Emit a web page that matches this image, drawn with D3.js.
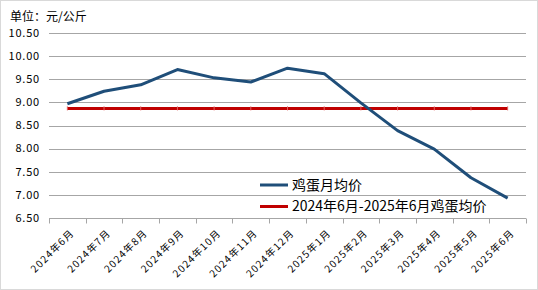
<!DOCTYPE html>
<html>
<head>
<meta charset="utf-8">
<script src="https://cdn.jsdelivr.net/npm/d3@7"></script>
<style>
  body { margin: 0; background: #fff; }
  text { font-family: "Noto Sans CJK SC", "DejaVu Sans", sans-serif; fill: #000; }
</style>
</head>
<body>
<div id="chart"></div>
<script>
var months = ["2024年6月", "2024年7月", "2024年8月", "2024年9月", "2024年10月", "2024年11月", "2024年12月",
              "2025年1月", "2025年2月", "2025年3月", "2025年4月", "2025年5月", "2025年6月"];
var monthly = [8.97, 9.24, 9.38, 9.71, 9.53, 9.44, 9.74, 9.62, 8.99, 8.39, 7.99, 7.37, 6.93];
var average = [8.87, 8.87, 8.87, 8.87, 8.87, 8.87, 8.87, 8.87, 8.87, 8.87, 8.87, 8.87, 8.87];
var yTicks = [6.5, 7.0, 7.5, 8.0, 8.5, 9.0, 9.5, 10.0, 10.5];
var seriesNames = ["鸡蛋月均价", "2024年6月-2025年6月鸡蛋均价"];

var width = 538;
var height = 290;
var margin = {left: 49, right: 12, top: 33, bottom: 72};

var svg = d3.select("#chart")
    .append("svg")
    .attr("width", width)
    .attr("height", height);

svg.append("rect")
    .attr("x", 0.5).attr("y", 0.5)
    .attr("width", width - 1).attr("height", height - 1)
    .attr("fill", "#fff")
    .attr("stroke", "#d9d9d9");

var x = d3.scaleBand()
    .domain(months)
    .range([margin.left, width - margin.right]);

var y = d3.scaleLinear()
    .domain([6.5, 10.5])
    .range([height - margin.bottom, margin.top]);

function cx(d) { return x(d) + x.bandwidth() / 2; }

// gridlines
svg.append("g")
    .selectAll("line")
    .data(yTicks.slice(1))
    .enter().append("line")
    .attr("x1", margin.left)
    .attr("x2", width - margin.right)
    .attr("y1", function (d) { return Math.round(y(d)) + 0.5; })
    .attr("y2", function (d) { return Math.round(y(d)) + 0.5; })
    .attr("stroke", "#a6a6a6");

// y labels
svg.append("g")
    .selectAll("text")
    .data(yTicks)
    .enter().append("text")
    .attr("x", 40)
    .attr("y", function (d) { return y(d); })
    .attr("dy", "0.35em")
    .attr("text-anchor", "end")
    .attr("font-size", "11px")
    .style("letter-spacing", "0.8px")
    .text(function (d) { return d3.format(".2f")(d); });

// x axis
var xAxis = svg.append("g")
    .attr("transform", "translate(0," + (Math.round(y(6.5)) + 0.5) + ")");
xAxis.append("line")
    .attr("x1", margin.left).attr("x2", width - margin.right)
    .attr("stroke", "#a6a6a6");
xAxis.selectAll("line.tick")
    .data(months.concat(["end"]))
    .enter().append("line")
    .attr("class", "tick")
    .attr("x1", function (d, i) { return Math.round(i < months.length ? x(d) : x.range()[1]) + 0.5; })
    .attr("x2", function (d, i) { return Math.round(i < months.length ? x(d) : x.range()[1]) + 0.5; })
    .attr("y1", 0).attr("y2", 5)
    .attr("stroke", "#a6a6a6");

svg.append("g")
    .selectAll("text")
    .data(months)
    .enter().append("text")
    .attr("transform", function (d) {
        return "translate(" + (cx(d) + 5) + "," + (y(6.5) + 13) + ") rotate(-45)";
    })
    .attr("text-anchor", "end")
    .attr("dy", "0.35em")
    .attr("font-size", "10px")
    .style("letter-spacing", "1.2px")
    .text(function (d) { return d; });

// lines
var line = d3.line()
    .x(function (d, i) { return cx(months[i]); })
    .y(function (d) { return y(d); });

svg.append("path")
    .datum(average)
    .attr("d", line)
    .attr("fill", "none")
    .attr("stroke", "#c00000")
    .attr("stroke-width", 3);

svg.append("g")
    .selectAll("line")
    .data(average)
    .enter().append("line")
    .attr("x1", function (d, i) { return cx(months[i]); })
    .attr("x2", function (d, i) { return cx(months[i]); })
    .attr("y1", function (d) { return y(d) - 2; })
    .attr("y2", function (d) { return y(d) + 2; })
    .attr("stroke", "#e06060")
    .attr("stroke-width", 1);

svg.append("path")
    .datum(monthly)
    .attr("d", line)
    .attr("fill", "none")
    .attr("stroke", "#1f4e79")
    .attr("stroke-width", 3)
    .attr("stroke-linejoin", "round");

// title
svg.append("text")
    .attr("x", 10)
    .attr("y", 21)
    .attr("font-size", "12px")
    .text("单位：元/公斤");

// legend
var legendColors = ["#1f4e79", "#c00000"];
var legend = svg.append("g").selectAll("g")
    .data(seriesNames)
    .enter().append("g")
    .attr("transform", function (d, i) { return "translate(260," + (185 + i * 21.5) + ")"; });

legend.append("line")
    .attr("x1", 0).attr("x2", 28)
    .attr("stroke", function (d, i) { return legendColors[i]; })
    .attr("stroke-width", 3);

legend.append("text")
    .attr("x", 32)
    .attr("dy", "0.35em")
    .attr("font-size", "14px")
    .text(function (d) { return d; });
</script>
</body>
</html>
